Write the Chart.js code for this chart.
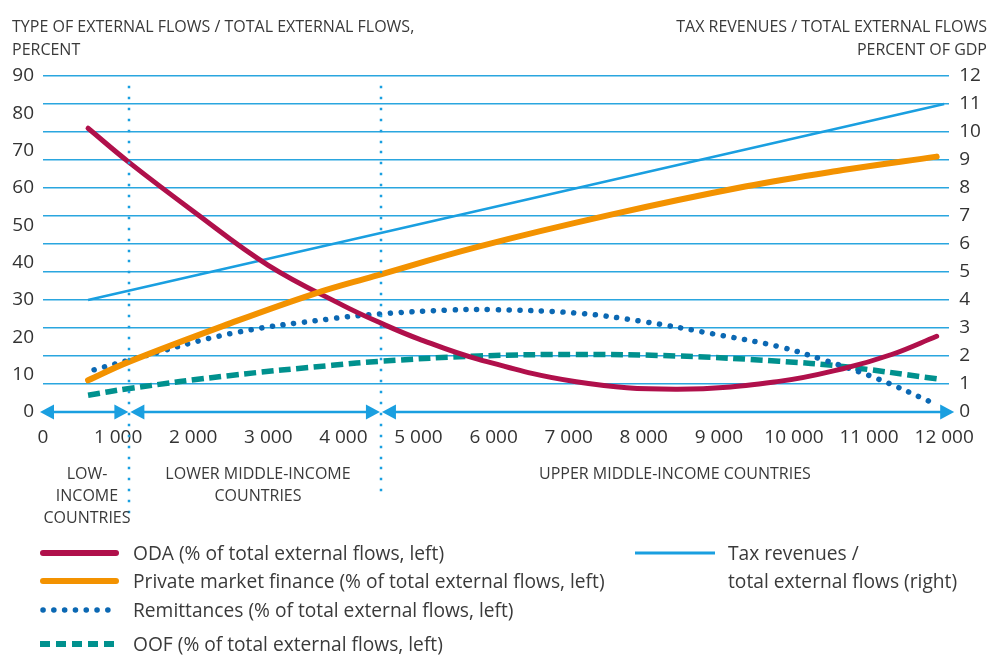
<!DOCTYPE html>
<html>
<head>
<meta charset="utf-8">
<script src="https://cdn.jsdelivr.net/npm/chart.js@4.4.1/dist/chart.umd.min.js"></script>
<style>
  body { margin: 0; background: #fff; font-family: "Open Sans", sans-serif; color: #3a3a3a; }
  #wrap { position: relative; width: 988px; height: 655px; overflow: hidden; }
  #c { position: absolute; left: 0; top: 0; }
  .t { position: absolute; white-space: nowrap; }
  .title { font-size: 16px; line-height: 23px; top: 15px; }
  .region { font-size: 16px; line-height: 22px; top: 462px; width: 260px; text-align: center; }
  .leg { position: absolute; height: 24px; font-size: 19.2px; line-height: 24px; white-space: nowrap; }
  .leg svg { position: absolute; left: 0; top: 0; }
  .leg span { position: absolute; top: 0; }
</style>
</head>
<body>
<div id="wrap">
  <canvas id="c" width="988" height="655"></canvas>

  <div class="t title" style="left:12px">TYPE OF EXTERNAL FLOWS / TOTAL EXTERNAL FLOWS,<br>PERCENT</div>
  <div class="t title" style="right:1px;text-align:right">TAX REVENUES / TOTAL EXTERNAL FLOWS<br>PERCENT OF GDP</div>

  <div class="t region" style="left:-43px">LOW-<br>INCOME<br>COUNTRIES</div>
  <div class="t region" style="left:128px">LOWER MIDDLE-INCOME<br>COUNTRIES</div>
  <div class="t region" style="left:539px">UPPER MIDDLE-INCOME COUNTRIES</div>

  <div class="leg" style="left:40px;top:541px;width:600px">
    <svg width="80" height="24"><line x1="3" y1="12" x2="76" y2="12" stroke="#b0104b" stroke-width="6" stroke-linecap="round"/></svg>
    <span style="left:93px">ODA (% of total external flows, left)</span>
  </div>
  <div class="leg" style="left:40px;top:569px;width:600px">
    <svg width="80" height="24"><line x1="3" y1="12" x2="76" y2="12" stroke="#f39200" stroke-width="6" stroke-linecap="round"/></svg>
    <span style="left:93px">Private market finance (% of total external flows, left)</span>
  </div>
  <div class="leg" style="left:40px;top:598px;width:600px">
    <svg width="80" height="24"><line x1="3" y1="12" x2="78" y2="12" stroke="#0b68b3" stroke-width="5.5" stroke-linecap="round" stroke-dasharray="0.1 10.7"/></svg>
    <span style="left:93px">Remittances (% of total external flows, left)</span>
  </div>
  <div class="leg" style="left:40px;top:632px;width:600px">
    <svg width="80" height="24"><line x1="0" y1="12" x2="78" y2="12" stroke="#00918e" stroke-width="6" stroke-dasharray="10 6"/></svg>
    <span style="left:93px">OOF (% of total external flows, left)</span>
  </div>
  <div class="leg" style="left:635px;top:541px;width:350px;height:60px;line-height:28px">
    <svg width="80" height="24"><line x1="0" y1="12" x2="80" y2="12" stroke="#1a9fe0" stroke-width="3"/></svg>
    <span style="left:93px;top:-2px">Tax revenues /<br>total external flows (right)</span>
  </div>
</div>

<script>
// GNI per capita (x) and values
const xTicks = [0, 1000, 2000, 3000, 4000, 5000, 6000, 7000, 8000, 9000, 10000, 11000, 12000];
const leftTicks = [0, 10, 20, 30, 40, 50, 60, 70, 80, 90];
const rightTicks = [0, 1, 2, 3, 4, 5, 6, 7, 8, 9, 10, 11, 12];

// income group thresholds as drawn
const groupBounds = [1150, 4500];

const odaIncome = [600, 1150, 2000, 3000, 4000, 4500, 5000, 5800, 7100, 8450, 9800, 10650, 11300, 11900];
const odaShare  = [76, 66.8, 53.8, 39.3, 28.5, 23.8, 19.6, 14.1, 8.1, 6.1, 8.2, 11.6, 15.4, 20.3];

const privIncome = [600, 1150, 2500, 3600, 4400, 5800, 7550, 9350, 10650, 11900];
const privShare  = [8.5, 13.5, 23.8, 31.6, 36.3, 44.3, 52.8, 60.4, 64.8, 68.4];

const remIncome = [680, 1150, 2500, 3850, 4500, 5400, 6000, 7100, 8000, 8900, 9800, 10400, 11100, 11900];
const remShare  = [11.3, 13.9, 21, 25, 26.3, 27.3, 27.4, 26.5, 24.2, 21, 17.5, 13.9, 9, 2];

const oofIncome = [600, 1150, 2500, 3850, 4500, 5800, 7100, 8450, 9800, 10650, 11900];
const oofShare  = [4.5, 6.3, 9.8, 12.5, 13.6, 15, 15.4, 15, 13.6, 12.2, 8.9];

const taxIncome = [600, 12000];
const taxGdp    = [4, 11];

const pts = (xs, ys) => xs.map((x, i) => ({ x: x, y: ys[i] }));
const fmt = v => String(v).replace(/\B(?=(\d{3})+(?!\d))/g, ' ');

const cyan = '#1a9fe0';
const tickFont = { family: '"Open Sans", sans-serif', size: 19 };

// dotted group separators and the arrowed x axis
const framePlugin = {
  id: 'frame',
  afterDatasetsDraw(chart) {
    const ctx = chart.ctx;
    const xs = chart.scales.x;
    const area = chart.chartArea;
    const y0 = chart.scales.yL.getPixelForValue(0);
    ctx.save();
    ctx.fillStyle = cyan;
    const ends = [522, 498];
    groupBounds.forEach((b, i) => {
      const px = Math.round(xs.getPixelForValue(b));
      for (let y = area.top + 11; y <= ends[i]; y += 10.9) {
        ctx.fillRect(px - 1.25, Math.round(y) - 1.25, 2.5, 2.5);
      }
    });

    const head = (x, dir) => {
      ctx.beginPath();
      ctx.moveTo(x, y0);
      ctx.lineTo(x - dir * 14, y0 - 7.5);
      ctx.lineTo(x - dir * 14, y0 + 7.5);
      ctx.closePath();
      ctx.fill();
    };
    const b0 = xs.getPixelForValue(groupBounds[0]);
    const b1 = xs.getPixelForValue(groupBounds[1]);
    const segs = [
      [xs.getPixelForValue(0) - 3, b0 - 1],
      [b0 + 1, b1 - 1],
      [b1 + 1, xs.getPixelForValue(12000) + 10]
    ];
    ctx.strokeStyle = cyan;
    ctx.lineWidth = 2.5;
    segs.forEach(s => {
      ctx.beginPath();
      ctx.moveTo(s[0] + 6, y0);
      ctx.lineTo(s[1] - 6, y0);
      ctx.stroke();
      head(s[0], -1);
      head(s[1], 1);
    });
    ctx.restore();
  }
};

new Chart(document.getElementById('c'), {
  type: 'line',
  data: {
    datasets: [
      {
        label: 'Private market finance (% of total external flows, left)',
        data: pts(privIncome, privShare),
        yAxisID: 'yL',
        borderColor: '#f39200',
        borderWidth: 6,
        borderCapStyle: 'round',
        order: 1
      },
      {
        label: 'ODA (% of total external flows, left)',
        data: pts(odaIncome, odaShare),
        yAxisID: 'yL',
        borderColor: '#b0104b',
        borderWidth: 5,
        borderCapStyle: 'round',
        order: 2
      },
      {
        label: 'Remittances (% of total external flows, left)',
        data: pts(remIncome, remShare),
        yAxisID: 'yL',
        borderColor: '#0b68b3',
        borderWidth: 5.5,
        borderCapStyle: 'round',
        borderDash: [0.1, 10.7],
        order: 3
      },
      {
        label: 'OOF (% of total external flows, left)',
        data: pts(oofIncome, oofShare),
        yAxisID: 'yL',
        borderColor: '#00918e',
        borderWidth: 5.5,
        borderDash: [12, 5.5],
        order: 4
      },
      {
        label: 'Tax revenues / total external flows (right)',
        data: pts(taxIncome, taxGdp),
        yAxisID: 'yR',
        borderColor: cyan,
        borderWidth: 2.5,
        order: 5
      }
    ]
  },
  options: {
    responsive: false,
    animation: false,
    events: [],
    elements: {
      point: { radius: 0 },
      line: { tension: 0.4, fill: false }
    },
    layout: { padding: { top: 76, bottom: 203, left: 0, right: 0 } },
    plugins: { legend: { display: false }, tooltip: { enabled: false } },
    scales: {
      x: {
        type: 'linear',
        min: 0,
        max: 12066,
        afterBuildTicks: s => { s.ticks = xTicks.map(v => ({ value: v })); },
        afterFit: s => { s.height = 40; },
        grid: { display: false, drawTicks: false },
        border: { display: false },
        ticks: { font: tickFont, color: '#333', padding: 14, maxRotation: 0, autoSkip: false, callback: v => fmt(v) }
      },
      yL: {
        position: 'left',
        min: 0,
        max: 90,
        afterBuildTicks: s => { s.ticks = leftTicks.map(v => ({ value: v })); },
        afterFit: s => { s.width = 43; },
        grid: { display: false, drawTicks: false },
        border: { display: false },
        ticks: { font: tickFont, color: '#333', padding: 9 }
      },
      yR: {
        position: 'right',
        min: 0,
        max: 12,
        afterBuildTicks: s => { s.ticks = rightTicks.map(v => ({ value: v })); },
        afterFit: s => { s.width = 35; },
        grid: {
          drawTicks: false,
          lineWidth: 1.6,
          color: c => (c.tick && c.tick.value === 0) ? 'rgba(0,0,0,0)' : '#2aa6df'
        },
        border: { display: false },
        ticks: { font: tickFont, color: '#333', padding: 10 }
      }
    }
  },
  plugins: [framePlugin]
});
</script>
</body>
</html>
